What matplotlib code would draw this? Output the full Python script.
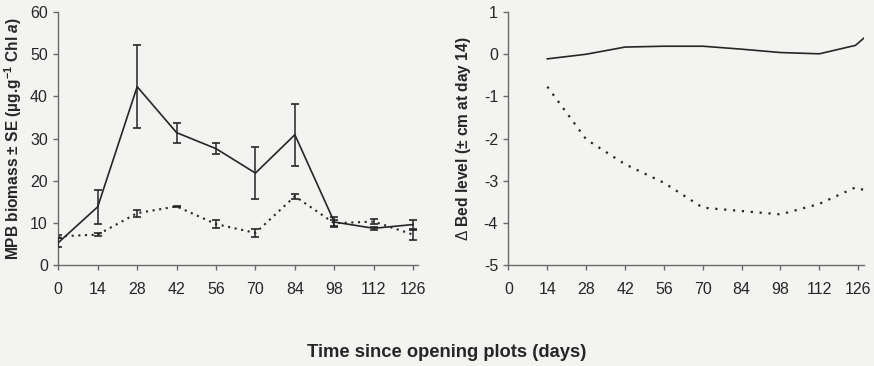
import matplotlib
matplotlib.use("Agg")
import matplotlib.pyplot as plt

plt.rcParams['font.family'] = ['Liberation Sans', 'DejaVu Sans']
plt.rcParams['axes.unicode_minus'] = False
plt.rcParams['mathtext.fontset'] = 'custom'
plt.rcParams['mathtext.rm'] = 'Liberation Sans'
plt.rcParams['mathtext.it'] = 'Liberation Sans:italic:bold'
plt.rcParams['mathtext.bf'] = 'Liberation Sans:bold'

# MPB biomass (µg g-1 Chl a) with standard errors
days = [0, 14, 28, 42, 56, 70, 84, 98, 112, 126]
solid_mean = [5.3, 13.8, 42.3, 31.4, 27.6, 21.8, 30.9, 10.2, 8.7, 9.6]
solid_se = [1.0, 4.0, 9.8, 2.4, 1.3, 6.1, 7.4, 1.3, 0.4, 1.1]
dotted_mean = [6.8, 7.2, 12.3, 13.9, 9.7, 7.6, 16.3, 9.9, 10.3, 7.2]
dotted_se = [0.4, 0.3, 0.8, 0.2, 1.0, 1.0, 0.6, 0.7, 0.5, 1.2]

# Change in bed level relative to day 14 (cm)
bed_days = [14, 28, 42, 56, 70, 84, 98, 112, 125, 128]
bed_solid = [-0.11, 0.0, 0.17, 0.19, 0.19, 0.12, 0.04, 0.01, 0.21, 0.38]
bed_dotted = [-0.77, -2.02, -2.61, -3.05, -3.64, -3.72, -3.80, -3.55, -3.16, -3.22]

xticks = [0, 14, 28, 42, 56, 70, 84, 98, 112, 126]

bg = '#f3f3f1'
ink = '#262626'
spine_c = '#6a6a6a'
fs = 11.5

fig = plt.figure(figsize=(8.74, 3.66), dpi=100, facecolor=bg)
ax1 = fig.add_axes([0.0667, 0.276, 0.4115, 0.691], facecolor=bg)
ax2 = fig.add_axes([0.5818, 0.276, 0.4068, 0.691], facecolor=bg)

ax1.errorbar(days, solid_mean, yerr=solid_se, color=ink, lw=1.2, ls='-',
             capsize=3, capthick=1.2, elinewidth=1.1, zorder=3)
ax1.errorbar(days, dotted_mean, yerr=dotted_se, color=ink, lw=1.5,
             ls=(0, (1, 2.2)), capsize=3, capthick=1.2, elinewidth=1.1,
             zorder=2)

ax1.set_xlim(0, 127.7)
ax1.set_ylim(0, 60)
ax1.set_yticks([0, 10, 20, 30, 40, 50, 60])
ax1.set_ylabel(r'MPB biomass ± SE (µg.g$^{\mathbf{-1}}$ Chl $\mathit{a}$)',
               fontsize=11.2, fontweight='bold', color=ink, labelpad=4)

ax2.plot(bed_days, bed_solid, color=ink, lw=1.2, ls='-')
ax2.plot(bed_days, bed_dotted, color=ink, lw=1.6, ls=(0, (1, 3)))
ax2.set_xlim(0, 128.1)
ax2.set_ylim(-5, 1)
ax2.set_yticks([-5, -4, -3, -2, -1, 0, 1])
ax2.set_ylabel(r'$\mathrm{\Delta}$ Bed level (± cm at day 14)', fontsize=11.2,
               fontweight='bold', color=ink, labelpad=8)

for ax in (ax1, ax2):
    ax.set_xticks(xticks)
    for s in ('top', 'right'):
        ax.spines[s].set_visible(False)
    for s in ('left', 'bottom'):
        ax.spines[s].set_color(spine_c)
        ax.spines[s].set_linewidth(1.0)
    ax.tick_params(axis='x', direction='out', length=3.5, width=1.0,
                   color=spine_c, labelsize=fs, labelcolor=ink, pad=9)
    ax.tick_params(axis='y', direction='out', length=3.5, width=1.0,
                   color=spine_c, labelsize=fs, labelcolor=ink, pad=4)

fig.text(0.511, 0.038, 'Time since opening plots (days)', ha='center',
         va='center', fontsize=13.2, fontweight='bold', color=ink)

fig.savefig('out.png', dpi=100, facecolor=bg)
